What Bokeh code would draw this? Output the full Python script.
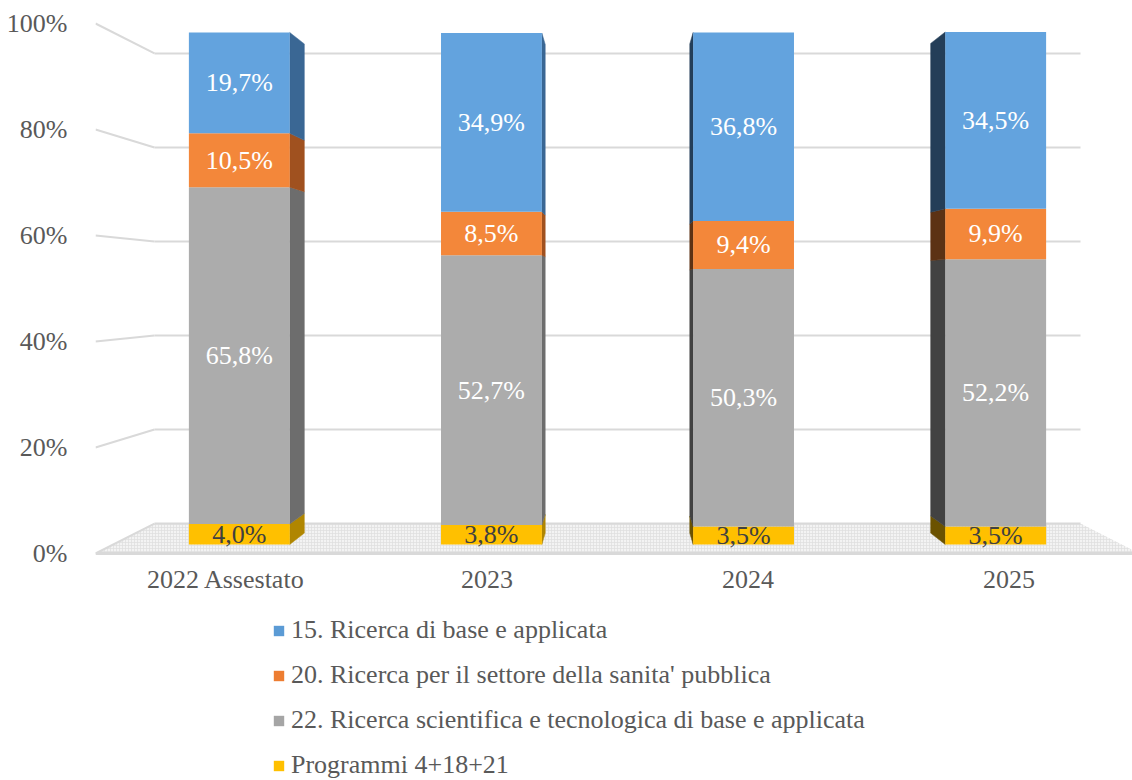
from bokeh.plotting import figure
from bokeh.layouts import column
from bokeh.models import Range1d, FixedTicker, Legend, LegendItem, ColumnDataSource
from bokeh.embed import file_html
from bokeh.resources import INLINE
from bokeh.core.properties import value

# ---------------- data ----------------
categories = ["2022 Assestato", "2023", "2024", "2025"]
programmi_4_18_21 = [4.0, 3.8, 3.5, 3.5]
ricerca_22 = [65.8, 52.7, 50.3, 52.2]
ricerca_20 = [10.5, 8.5, 9.4, 9.9]
ricerca_15 = [19.7, 34.9, 36.8, 34.5]
series_keys = ["p4", "r22", "r20", "r15"]  # bottom -> top
series_labels = [
    "Programmi 4+18+21",
    "22. Ricerca scientifica e tecnologica di base e applicata",
    "20. Ricerca per il settore della sanita' pubblica",
    "15. Ricerca di base e applicata",
]
y_ticks = [0, 20, 40, 60, 80, 100]

# ---------------- styles ----------------
FONT = "Liberation Serif"
FSIZE = "26px"
TXT = "#595959"
front_colors = ["#ffc000", "#acacac", "#f3873a", "#63a3de"]
legend_colors = ["#ffc000", "#a5a5a5", "#ed7d31", "#5b9bd5"]
side_light = ["#b08600", "#6d6d6d", "#a0511f", "#3a6794"]
side_dark = ["#6b5200", "#424242", "#5c3214", "#243e58"]
label_colors = ["#404040", "#ffffff", "#ffffff", "#ffffff"]
GRID = "#d9d9d9"

# ---------------- geometry (perspective) ----------------
PX_X, PX_Y = 261.0, 5.3
FW, FH = 1037, 542
X0, X1 = 0.0, FW / PX_X
Y0 = -2 / PX_Y
Y1 = Y0 + FH / PX_Y
n = len(categories)
VPX, VPY = n / 2.0, 50.0
S_FRONT, S_REAR, S_WALL = 0.966, 0.923, 0.887
BAR_W = 0.4


def proj(x, y, s):
    return VPX + (x - VPX) * s, VPY + (y - VPY) * s


def drange(a, b, c, s):
    return Range1d(c + (a - c) / s, c + (b - c) / s)


p = figure(frame_width=FW, frame_height=FH,
           x_range=Range1d(X0, X1), y_range=Range1d(Y0, Y1),
           output_backend="svg", toolbar_location=None,
           min_border_left=95, min_border_top=13, min_border_right=0, min_border_bottom=50)
p.extra_x_ranges = {"front": drange(X0, X1, VPX, S_FRONT), "wall": drange(X0, X1, VPX, S_WALL)}
p.extra_y_ranges = {"front": drange(Y0, Y1, VPY, S_FRONT), "wall": drange(Y0, Y1, VPY, S_WALL)}
p.xgrid.visible = False
p.ygrid.visible = False
p.outline_line_color = None
p.background_fill_color = "white"
p.border_fill_color = "white"

# floor
fx = [0, proj(0, 0, S_WALL)[0], proj(n, 0, S_WALL)[0], n]
fy = [0, proj(0, 0, S_WALL)[1], proj(n, 0, S_WALL)[1], 0]
p.patch(fx, fy, fill_color="#f3f3f3", line_color=None,
        hatch_pattern="cross", hatch_color="#dedede", hatch_scale=3, hatch_weight=0.7)
p.line([0, n], [0, 0], line_color=GRID, line_width=3)

# back wall gridlines and left wall lines
p.segment(x0=[0] * len(y_ticks), x1=[n] * len(y_ticks), y0=y_ticks, y1=y_ticks,
          line_color=GRID, line_width=2, x_range_name="wall", y_range_name="wall")
wx1 = [proj(0, v, S_WALL)[0] for v in y_ticks]
wy1 = [proj(0, v, S_WALL)[1] for v in y_ticks]
p.segment(x0=[0] * len(y_ticks), y0=y_ticks, x1=wx1, y1=wy1, line_color=GRID, line_width=2)

# stacks
stack_vals = [programmi_4_18_21, ricerca_22, ricerca_20, ricerca_15]
xs_center = [i + 0.5 for i in range(n)]

# side faces
for i in range(n):
    right_side = xs_center[i] < VPX
    xe = xs_center[i] + (BAR_W / 2 if right_side else -BAR_W / 2)
    base = 0.0
    for k, vals in enumerate(stack_vals):
        top = base + vals[i]
        a = proj(xe, base, S_FRONT)
        b = proj(xe, top, S_FRONT)
        c = proj(xe, top, S_REAR)
        d = proj(xe, base, S_REAR)
        col = side_light[k] if right_side else side_dark[k]
        p.patch([a[0], b[0], c[0], d[0]], [a[1], b[1], c[1], d[1]],
                fill_color=col, line_color=col, line_width=0.5)
        base = top

src = ColumnDataSource(dict(x=xs_center, p4=programmi_4_18_21, r22=ricerca_22,
                            r20=ricerca_20, r15=ricerca_15))
rends = p.vbar_stack(series_keys, x="x", width=BAR_W, source=src,
                     fill_color=front_colors, line_color=None,
                     x_range_name="front", y_range_name="front")

# data labels
lx, ly, lt, lc = [], [], [], []
for i in range(n):
    base = 0.0
    for k, vals in enumerate(stack_vals):
        lx.append(xs_center[i])
        ly.append(base + vals[i] / 2)
        lt.append(f"{vals[i]:.1f}%".replace(".", ","))
        lc.append(label_colors[k])
        base += vals[i]
p.text(x=lx, y=ly, text=lt, text_color=lc, text_font=value(FONT), text_font_size=FSIZE,
       text_align="center", text_baseline="middle",
       x_range_name="front", y_range_name="front")

# axes
p.yaxis.ticker = FixedTicker(ticks=y_ticks)
p.yaxis.major_label_overrides = {v: f"{v}%" for v in y_ticks}
p.xaxis.ticker = FixedTicker(ticks=xs_center)
p.xaxis.major_label_overrides = {x: c for x, c in zip(xs_center, categories)}
for ax in (p.xaxis[0], p.yaxis[0]):
    ax.axis_line_color = None
    ax.major_tick_line_color = None
    ax.minor_tick_line_color = None
    ax.major_label_text_font = FONT
    ax.major_label_text_font_size = FSIZE
    ax.major_label_text_color = TXT
p.yaxis.major_label_standoff = 22
p.xaxis.major_label_standoff = 3

# legend (separate strip below the chart, frames aligned)
pl = figure(frame_width=FW, frame_height=175, x_range=Range1d(0, 1), y_range=Range1d(0, 1),
            x_axis_type=None, y_axis_type=None, output_backend="svg", toolbar_location=None,
            min_border_left=95, min_border_top=0, min_border_right=0, min_border_bottom=0)
pl.xgrid.visible = False
pl.ygrid.visible = False
pl.outline_line_color = None
swatches = [pl.vbar(x=[0.5], bottom=[-3], top=[-2], width=0.1,
                    fill_color=legend_colors[k], line_color=None)
            for k in range(4)]
items = [LegendItem(label=series_labels[k], renderers=[swatches[k]]) for k in reversed(range(4))]
legend = Legend(items=items, location=(177, 0), orientation="vertical",
                glyph_width=13, glyph_height=13, label_standoff=6, spacing=15, label_height=30,
                padding=0, margin=0, border_line_color=None, background_fill_alpha=0,
                label_text_font=FONT, label_text_font_size=FSIZE, label_text_color=TXT)
pl.add_layout(legend, "center")

layout = column(p, pl, spacing=0)
open("out.html", "w").write(file_html(layout, INLINE))
